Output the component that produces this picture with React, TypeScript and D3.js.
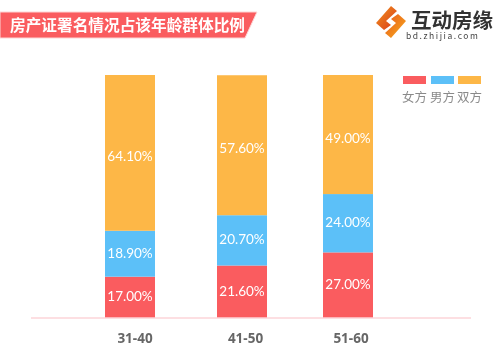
import React from "react";
import * as d3 from "d3";

const title = "房产证署名情况占该年龄群体比例";
const categories = ["31-40", "41-50", "51-60"];
const seriesNames = ["女方", "男方", "双方"];
const wife = [17.0, 21.6, 27.0];
const husband = [18.9, 20.7, 24.0];
const both = [64.1, 57.6, 49.0];
const colors = ["#fa5c5f", "#5bc0f8", "#fdb747"];

const rows = categories.map((c, i) => ({ cat: c, 女方: wife[i], 男方: husband[i], 双方: both[i] }));
const stacked = d3.stack<any>().keys(seriesNames)(rows);

const y = d3.scaleLinear().domain([0, 100]).range([318, 75]);
const barX = d3.scaleOrdinal<string, number>().domain(categories).range([105, 217, 323]);
const labelX = d3.scaleOrdinal<string, number>().domain(categories).range([135, 245.5, 351]);
const color = d3.scaleOrdinal<string, string>().domain(seriesNames).range(colors);
const legendX = d3.scaleOrdinal<string, number>().domain(seriesNames).range([403, 431, 458]);
const labelShift = d3.scaleOrdinal<string, number>().domain(seriesNames).range([4, 4, 8]);

const sans = "'Noto Sans CJK SC', 'Open Sans', sans-serif";

export default function App() {
  return (
    <svg width={500} height={355} style={{ position: "absolute", left: 0, top: 0, background: "#fff" }} fontFamily={sans}>
      <defs>
        <linearGradient id="logoA" x1="0" y1="0" x2="1" y2="1">
          <stop offset="0" stopColor="#f2941e" />
          <stop offset="1" stopColor="#d8381c" />
        </linearGradient>
        <linearGradient id="logoB" x1="0" y1="0" x2="1" y2="1">
          <stop offset="0" stopColor="#e8541c" />
          <stop offset="1" stopColor="#f7b01e" />
        </linearGradient>
        <filter id="soft" x="-5%" y="-5%" width="110%" height="110%">
          <feGaussianBlur stdDeviation="0.35" />
        </filter>
      </defs>
      <g filter="url(#soft)">
        <polygon points="0,12 257,12 245,38 0,38" fill="#fa5c5f" stroke="#fdd5d5" strokeWidth={1} />
        <text x={10} y={30.5} fontSize={15.6} fontWeight={700} fill="#fff" textLength={235} lengthAdjust="spacingAndGlyphs">{title}</text>

        <polygon points="391,6 397,11 386,21 391,25 384,30 376,23" fill="url(#logoA)" />
        <polygon points="391,38 385,33 396,23 391,19 398,14 406,21" fill="url(#logoB)" />
        <text x={411} y={27.5} fontSize={20.5} fontWeight={700} fill="#333">互动房缘</text>
        <text x={406} y={39} fontSize={8.5} fill="#444" letterSpacing={1.55}>bd.zhijia.com</text>

        {seriesNames.map((s) => (
          <g key={s}>
            <rect x={legendX(s)} y={76} width={23} height={8} fill={color(s)} />
            <text x={legendX(s)! + 11.5} y={102} fontSize={12.5} textAnchor="middle" fill="#8a8a8a">{s}</text>
          </g>
        ))}

        {stacked.map((layer) =>
          layer.map((d, i) => (
            <g key={layer.key + i}>
              <rect x={barX(categories[i])} y={y(d[1])} width={50} height={y(d[0]) - y(d[1])} fill={color(layer.key)} />
              <text
                x={barX(categories[i])! + 25}
                y={(y(d[0]) + y(d[1])) / 2 + labelShift(layer.key)}
                fontSize={13.5}
                fontFamily="Lato, 'Open Sans', sans-serif"
                textAnchor="middle"
                fill="#fff"
              >
                {(d[1] - d[0]).toFixed(2) + "%"}
              </text>
            </g>
          ))
        )}

        <line x1={31} x2={471} y1={318} y2={318} stroke="#fdd5d8" strokeWidth={1.5} />

        {categories.map((c) => (
          <text key={c} x={labelX(c)} y={342.5} fontSize={13.5} fontWeight={700} fontFamily="'Open Sans', sans-serif" textAnchor="middle" fill="#666">
            {c}
          </text>
        ))}
      </g>
    </svg>
  );
}
